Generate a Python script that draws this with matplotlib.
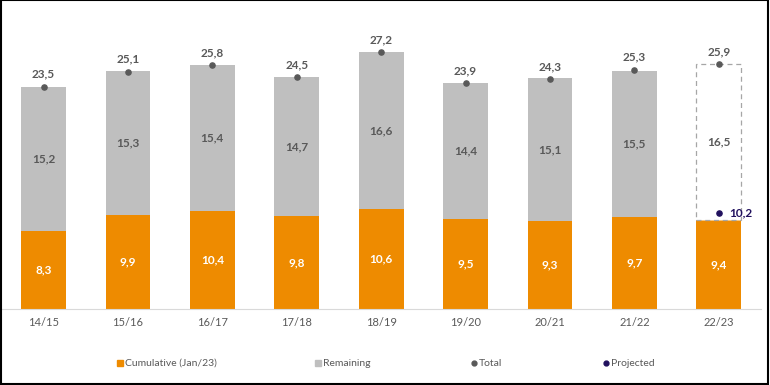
import matplotlib
matplotlib.use("Agg")
import matplotlib.pyplot as plt
from matplotlib.lines import Line2D
from matplotlib.patches import Rectangle

seasons = ["14/15", "15/16", "16/17", "17/18", "18/19", "19/20", "20/21", "21/22", "22/23"]
cumulative = [8.3, 9.9, 10.4, 9.8, 10.6, 9.5, 9.3, 9.7, 9.4]
remaining = [15.2, 15.3, 15.4, 14.7, 16.6, 14.4, 15.1, 15.5, 16.5]
total = [23.5, 25.1, 25.8, 24.5, 27.2, 23.9, 24.3, 25.3, 25.9]
projected = 10.2

ORANGE = "#ee8b00"
GREY = "#bfbfbf"
INK = "#595959"
NAVY = "#21115e"
plt.rcParams["font.family"] = ["Lato", "DejaVu Sans"]

fmt = lambda v: f"{v:.1f}".replace(".", ",")

fig = plt.figure(figsize=(7.7, 3.85), dpi=100)
ax = fig.add_axes([1.3 / 770, 76 / 385, 759.7 / 770, 283.5 / 385])
x = list(range(len(seasons)))
w = 0.53
last = len(seasons) - 1

ax.bar(x, cumulative, width=w, color=ORANGE, zorder=2)
ax.bar(x[:last], remaining[:last], bottom=cumulative[:last], width=w, color=GREY, zorder=2)
ax.bar(x[last], remaining[last], bottom=cumulative[last], width=w, facecolor="white",
       edgecolor="#a6a6a6", linestyle=(0, (4, 3)), linewidth=0.9, zorder=2)

ax.scatter(x, total, s=14, color=INK, zorder=3)
ax.scatter([x[last]], [projected], s=14, color=NAVY, zorder=3)

for i in x:
    ax.text(i, cumulative[i] / 2, fmt(cumulative[i]), ha="center", va="center",
            color="white", fontsize=8.5, fontweight="bold")
    ax.text(i, cumulative[i] + remaining[i] / 2, fmt(remaining[i]), ha="center",
            va="center", color=INK, fontsize=8.5, fontweight="bold")
    ax.text(i, total[i] + 0.75, fmt(total[i]), ha="center", va="bottom",
            color=INK, fontsize=8.5, fontweight="bold")
ax.text(x[last] + 0.12, projected, fmt(projected), ha="left", va="center",
        color=NAVY, fontsize=8.5, fontweight="bold")

ax.set_xlim(-0.5, len(seasons) - 0.5)
ax.set_ylim(0, 30)
ax.set_xticks(x)
ax.set_xticklabels(seasons, color=INK, fontsize=8)
ax.tick_params(axis="x", length=0, pad=6)
ax.set_yticks([])
for s in ["top", "left", "right"]:
    ax.spines[s].set_visible(False)
ax.spines["bottom"].set_color("#d9d9d9")

# legend, placed item by item
legend_items = [
    ("Cumulative (Jan/23)", "s", ORANGE, 4.5, 120),
    ("Remaining", "s", GREY, 4.5, 318),
    ("Total", "o", INK, 3.5, 474),
    ("Projected", "o", NAVY, 3.5, 606),
]
ly = 1 - 363 / 385
for label, mk, col, ms, px in legend_items:
    fig.add_artist(Line2D([px / 770], [ly], marker=mk, color=col, markersize=ms,
                          linestyle="none", transform=fig.transFigure))
    fig.text((px + 5) / 770, ly, label, ha="left", va="center", fontsize=7.5, color=INK)

fig.add_artist(Rectangle((0.001, 0.002), 0.997, 0.997, transform=fig.transFigure,
                         fill=False, edgecolor="black", linewidth=1.5))

fig.savefig("out.png", dpi=100, facecolor="white")
